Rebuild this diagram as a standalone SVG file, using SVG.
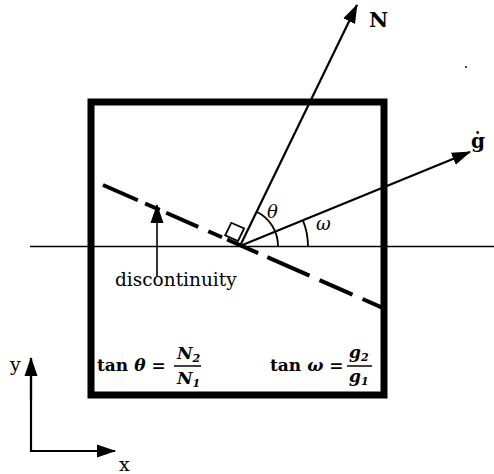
<svg xmlns="http://www.w3.org/2000/svg" width="494" height="474" viewBox="0 0 494 474">
<style>
.ln{stroke:#000;fill:none;stroke-linecap:butt}
.thin{stroke-width:1.6}
.vec{stroke-width:2.2}
.txt{font-family:"DejaVu Serif","Liberation Serif",serif;fill:#000}
.it{font-style:italic}
.bd{font-weight:bold}
</style>
<defs>
<marker id="ah" markerUnits="userSpaceOnUse" markerWidth="20" markerHeight="14" refX="18" refY="7" orient="auto">
<path d="M0,0.5 L19,7 L0,13.5 z" fill="#000"/>
</marker>
</defs>
<rect width="494" height="474" fill="#fff"/>
<g id="box">
<rect x="91" y="102" width="293" height="293" fill="none" stroke="#000" stroke-width="7"/>
</g>
<g id="connectors">
<line id="horizontal" class="ln thin" x1="30" y1="246.5" x2="494" y2="246.5"/>
<path id="discontinuity-line" class="ln" stroke-width="4" d="M103,185 L383,308" stroke-dasharray="38 8 16 7 35 11 15 5.5 34 10 46 11 36 11 22 10"/>
<line id="vec-N" class="ln vec" x1="240" y1="246" x2="357" y2="5" marker-end="url(#ah)"/>
<line id="vec-g" class="ln vec" x1="240" y1="246" x2="470" y2="152" marker-end="url(#ah)"/>
<line id="disc-pointer" class="ln thin" x1="157" y1="276" x2="157" y2="205" marker-end="url(#ah)"/>
<path id="right-angle" class="ln" stroke-width="1.8" d="M238,241 L244.1,228.4 L231.3,222.8 L225.2,235.4 Z"/>
<path id="arc-theta" class="ln" stroke-width="1.8" d="M278,246.5 A38,38 0 0 0 256.6,211.8"/>
<path id="arc-omega" class="ln" stroke-width="1.8" d="M308,246.5 A68,68 0 0 0 302.9,220.3"/>
<polyline id="axes" class="ln vec" points="31,358 31,451 115,451"/>
<line class="ln vec" x1="31" y1="400" x2="31" y2="358" marker-end="url(#ah)"/>
<line class="ln vec" x1="60" y1="451" x2="115" y2="451" marker-end="url(#ah)"/>
</g>
<g id="label-N"><text class="txt bd" x="369" y="27" font-size="21">N</text></g>
<g id="label-g"><text class="txt bd" x="471" y="148" font-size="20">ġ</text></g>
<circle cx="466" cy="67" r="1" fill="#000"/>
<g id="label-theta"><text class="txt it" x="267" y="218" font-size="18">θ</text></g>
<g id="label-omega"><text class="txt it" x="316" y="230" font-size="18">ω</text></g>
<g id="label-discontinuity"><text class="txt" x="115" y="286" font-size="18.5">discontinuity</text></g>
<g id="label-y"><text class="txt" x="10" y="371" font-size="19">y</text></g>
<g id="label-x"><text class="txt" x="119" y="471" font-size="19">x</text></g>
<g id="eq-theta">
<text class="txt bd" x="97" y="371" font-size="17">tan <tspan class="it">θ</tspan> =</text>
<text class="txt bd it" x="177" y="359" font-size="17">N<tspan font-size="11" dy="3">2</tspan></text>
<line class="ln" stroke-width="1.5" x1="174" y1="366" x2="201" y2="366"/>
<text class="txt bd it" x="177" y="384" font-size="17">N<tspan font-size="11" dy="3">1</tspan></text>
</g>
<g id="eq-omega">
<text class="txt bd" x="270" y="371" font-size="17">tan <tspan class="it">ω</tspan> =</text>
<text class="txt bd it" x="349" y="358" font-size="17">g<tspan font-size="11" dy="3">2</tspan></text>
<line class="ln" stroke-width="1.5" x1="347" y1="366" x2="372" y2="366"/>
<text class="txt bd it" x="349" y="382" font-size="17">g<tspan font-size="11" dy="3">1</tspan></text>
</g>
</svg>
